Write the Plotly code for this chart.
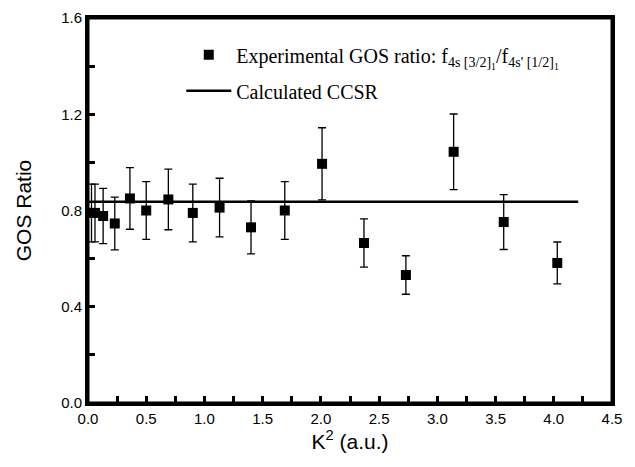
import plotly.graph_objects as go

k2 = [0.03, 0.06, 0.13, 0.23, 0.36, 0.50, 0.69, 0.90, 1.13, 1.40, 1.69, 2.01, 2.37, 2.73, 3.14, 3.57, 4.03]
gos = [0.79, 0.79, 0.777, 0.746, 0.850, 0.800, 0.846, 0.790, 0.812, 0.730, 0.800, 0.994, 0.665, 0.532, 1.044, 0.752, 0.582]
err = [0.12, 0.12, 0.115, 0.11, 0.128, 0.12, 0.126, 0.12, 0.122, 0.11, 0.12, 0.15, 0.10, 0.08, 0.157, 0.114, 0.087]

ccsr_x = [0.0, 4.21]
ccsr_y = [0.836, 0.836]

x_tickvals = [0.0, 0.25, 0.5, 0.75, 1.0, 1.25, 1.5, 1.75, 2.0, 2.25, 2.5, 2.75, 3.0, 3.25, 3.5, 3.75, 4.0, 4.25, 4.5]
x_ticktext = ["0.0", "", "0.5", "", "1.0", "", "1.5", "", "2.0", "", "2.5", "", "3.0", "", "3.5", "", "4.0", "", "4.5"]
y_tickvals = [0.0, 0.2, 0.4, 0.6, 0.8, 1.0, 1.2, 1.4, 1.6]
y_ticktext = ["0.0", "", "0.4", "", "0.8", "", "1.2", "", "1.6"]

fig = go.Figure()
fig.add_trace(go.Scatter(
    x=k2, y=gos, mode="markers",
    marker=dict(symbol="square", size=10, color="black"),
    error_y=dict(type="data", array=err, visible=True, color="black", thickness=1.3, width=4),
    name="Experimental GOS ratio: f<sub>4s [3/2]<sub>1</sub></sub>/f<sub>4s' [1/2]<sub>1</sub></sub>",
    legendgroup="a",
))
fig.add_trace(go.Scatter(
    x=ccsr_x, y=ccsr_y, mode="lines",
    line=dict(color="black", width=2.5),
    name="Calculated CCSR",
    legendgroup="b",
))

tickfont = dict(family="Liberation Sans, Arial", size=15, color="black")
titlefont = dict(family="Liberation Sans, Arial", size=21, color="black")

fig.update_xaxes(
    range=[0, 4.5], tickmode="array", tickvals=x_tickvals, ticktext=x_ticktext,
    showline=True, linecolor="black", linewidth=3, mirror=True,
    ticks="inside", ticklen=7, tickwidth=3, tickcolor="black",
    showgrid=False, zeroline=False, tickfont=tickfont, automargin=False,
    title=dict(text="K<sup>2</sup> (a.u.)", font=titlefont, standoff=8),
)
fig.update_yaxes(
    range=[0, 1.6], tickmode="array", tickvals=y_tickvals, ticktext=y_ticktext,
    showline=True, linecolor="black", linewidth=3, mirror=True,
    ticks="inside", ticklen=7, tickwidth=3, tickcolor="black",
    showgrid=False, zeroline=False, tickfont=tickfont, automargin=False,
    title=dict(text="GOS Ratio", font=titlefont, standoff=24),
)

# plot frame drawn as a paper-referenced rectangle (robust border)
fig.add_shape(
    type="rect", xref="paper", yref="paper", x0=0, y0=0, x1=1, y1=1,
    line=dict(color="black", width=3), fillcolor="rgba(0,0,0,0)", layer="above",
)

fig.update_layout(
    width=627, height=459,
    margin=dict(l=80, r=23, t=10, b=64),
    paper_bgcolor="white", plot_bgcolor="white",
    legend=dict(
        x=0.178, y=0.955, xanchor="left", yanchor="top",
        bgcolor="rgba(0,0,0,0)",
        font=dict(family="Liberation Serif, Times New Roman", size=20, color="black"),
        tracegroupgap=7, itemwidth=45,
    ),
)

fig.write_html("out.html")
